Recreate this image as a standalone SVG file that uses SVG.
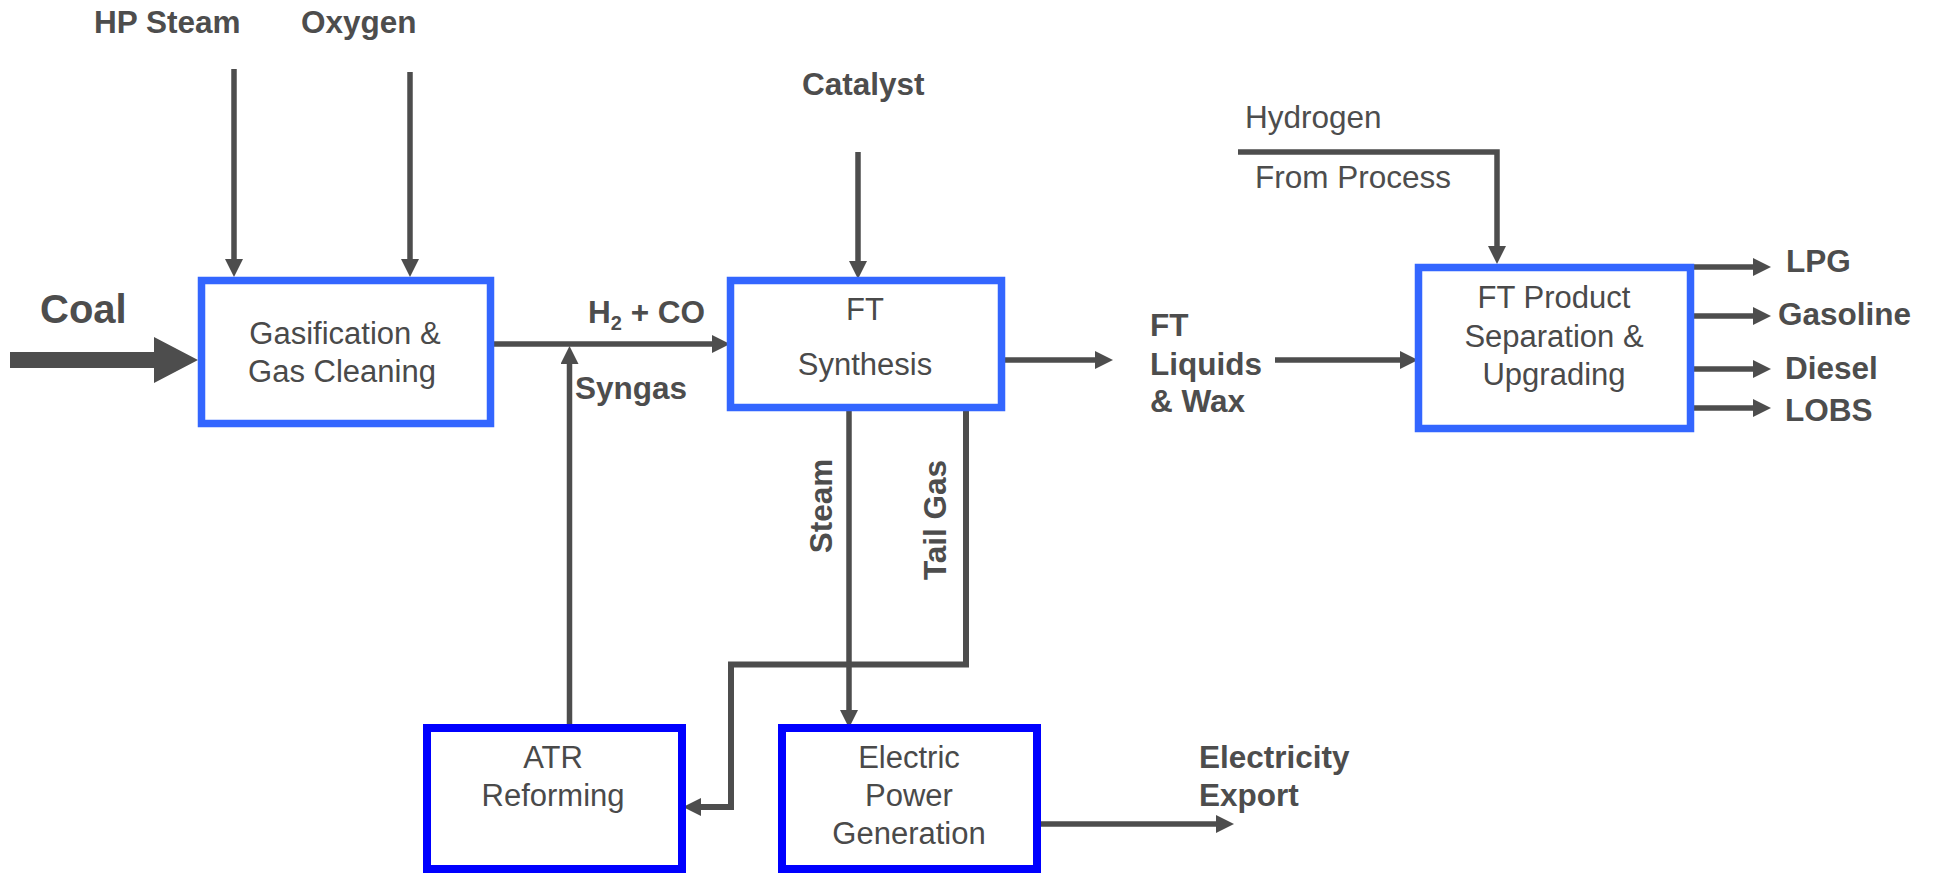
<svg xmlns="http://www.w3.org/2000/svg" width="1935" height="873" viewBox="0 0 1935 873">
<defs>
<style>
text{font-family:"Liberation Sans",Arial,Helvetica,sans-serif;fill:#4d4d4d;}
.lb{font-weight:bold;font-size:31.5px;}
.rg{font-size:31.5px;}
.bt{font-size:31px;text-anchor:middle;fill:#4a4a4a;}
.b1{fill:#ffffff;stroke:#3366ff;stroke-width:7.5;}
.b2{fill:#ffffff;stroke:#0000ff;stroke-width:8;}
.ln{fill:none;stroke:#4d4d4d;stroke-width:5.5;stroke-linejoin:miter;}
.ar{marker-end:url(#ah);}
</style>
<marker id="ah" markerUnits="userSpaceOnUse" markerWidth="18" markerHeight="18" refX="0" refY="9" orient="auto" viewBox="0 0 18 18">
<path d="M0,0 L18,9 L0,18 Z" fill="#4d4d4d"/>
</marker>
</defs>
<rect width="1935" height="873" fill="#ffffff"/>

<g id="connectors">
<polygon points="10,352 154,352 154,337 198,360 154,383 154,368 10,368" fill="#4d4d4d"/>
<line class="ln ar" x1="234" y1="69" x2="234" y2="259"/>
<line class="ln ar" x1="410" y1="72" x2="410" y2="259"/>
<line class="ln ar" x1="858" y1="152" x2="858" y2="261"/>
<line class="ln ar" x1="494" y1="344" x2="712" y2="344"/>
<line class="ln ar" x1="569.5" y1="724" x2="569.5" y2="364"/>
<line class="ln ar" x1="1005" y1="360" x2="1095" y2="360"/>
<line class="ln ar" x1="1275" y1="360" x2="1400" y2="360"/>
<polyline class="ln ar" points="1238,152 1497,152 1497,246"/>
<line class="ln ar" x1="1694" y1="267" x2="1753" y2="267"/>
<line class="ln ar" x1="1694" y1="316" x2="1753" y2="316"/>
<line class="ln ar" x1="1694" y1="369" x2="1753" y2="369"/>
<line class="ln ar" x1="1694" y1="408" x2="1753" y2="408"/>
<line class="ln ar" x1="849" y1="411" x2="849" y2="710"/>
<polyline class="ln" points="966,411 966,664.5 731,664.5 731,807 701,807" style="stroke-width:6"/>
<path d="M701,798 L683,807 L701,816 Z" fill="#4d4d4d"/>
<line class="ln ar" x1="1041" y1="824" x2="1216" y2="824"/>
</g>

<g id="gasification">
<rect class="b1" x="201.5" y="280.5" width="289" height="143"/>
<text class="bt" x="345" y="344">Gasification &amp;</text>
<text class="bt" x="342" y="382">Gas Cleaning</text>
</g>

<g id="ft-synthesis">
<rect class="b1" x="730.5" y="280.5" width="271" height="127"/>
<text class="bt" x="865" y="320">FT</text>
<text class="bt" x="865" y="375">Synthesis</text>
</g>

<g id="ft-product">
<rect class="b1" x="1418.5" y="267.5" width="272" height="161"/>
<text class="bt" x="1554" y="308">FT Product</text>
<text class="bt" x="1554" y="347">Separation &amp;</text>
<text class="bt" x="1554" y="385">Upgrading</text>
</g>

<g id="atr">
<rect class="b2" x="427" y="728" width="255" height="141"/>
<text class="bt" x="553" y="768">ATR</text>
<text class="bt" x="553" y="806">Reforming</text>
</g>

<g id="power">
<rect class="b2" x="782" y="728" width="255" height="141"/>
<text class="bt" x="909" y="768">Electric</text>
<text class="bt" x="909" y="806">Power</text>
<text class="bt" x="909" y="844">Generation</text>
</g>

<g id="labels">
<text class="lb" x="94" y="33">HP Steam</text>
<text class="lb" x="301" y="33">Oxygen</text>
<text x="40" y="323" style="font-weight:bold;font-size:40px">Coal</text>
<text class="lb" x="588" y="323">H<tspan font-size="20" dy="7">2</tspan><tspan dy="-7"> + CO</tspan></text>
<text class="lb" x="575" y="399">Syngas</text>
<text class="lb" x="802" y="95">Catalyst</text>
<text class="lb" x="1150" y="336">FT</text>
<text class="lb" x="1150" y="375">Liquids</text>
<text class="lb" x="1150" y="412">&amp; Wax</text>
<text class="rg" x="1245" y="128">Hydrogen</text>
<text class="rg" x="1255" y="188">From Process</text>
<text class="lb" x="1786" y="272">LPG</text>
<text class="lb" x="1778" y="325">Gasoline</text>
<text class="lb" x="1785" y="379">Diesel</text>
<text class="lb" x="1785" y="421">LOBS</text>
<text class="lb" x="1199" y="768">Electricity</text>
<text class="lb" x="1199" y="806">Export</text>
<text class="lb" text-anchor="middle" transform="translate(832,506) rotate(-90)">Steam</text>
<text class="lb" text-anchor="middle" transform="translate(946,520) rotate(-90)">Tail Gas</text>
</g>
</svg>
